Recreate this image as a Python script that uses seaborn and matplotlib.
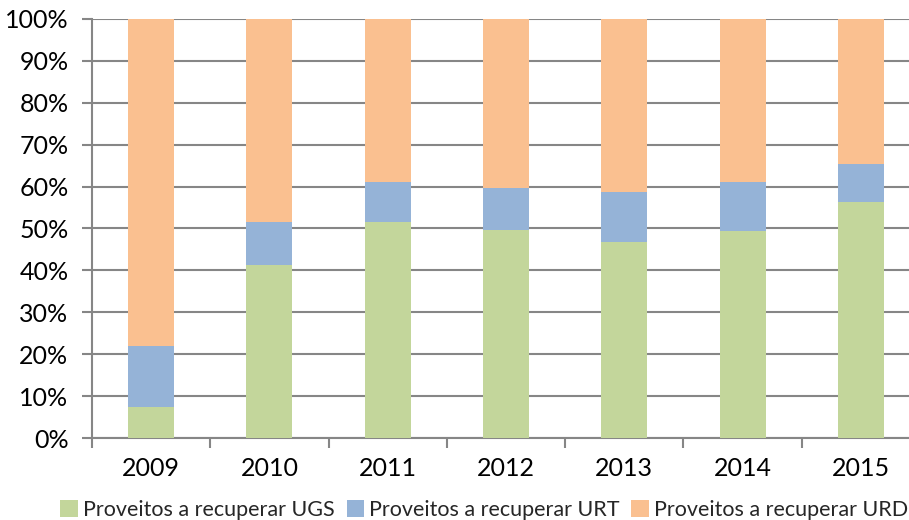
import matplotlib
matplotlib.use("Agg")
import matplotlib.pyplot as plt
import matplotlib.patches as mpatches
from matplotlib.ticker import FixedLocator, PercentFormatter
import numpy as np
import pandas as pd
import seaborn as sns

years = ["2009", "2010", "2011", "2012", "2013", "2014", "2015"]
ugs = [7.3, 41.2, 51.6, 49.7, 46.8, 49.3, 56.4]
urt = [14.7, 10.4, 9.5, 10.0, 12.0, 11.8, 9.0]
urd = [100 - a - b for a, b in zip(ugs, urt)]

series_names = ["Proveitos a recuperar UGS", "Proveitos a recuperar URT", "Proveitos a recuperar URD"]
colors = ["#C3D69B", "#95B3D7", "#FAC090"]

df = pd.DataFrame({"ano": years, "UGS": ugs, "URT": urt, "URD": urd})
df["top_urt"] = df["UGS"] + df["URT"]
df["top_urd"] = df["top_urt"] + df["URD"]

sns.set_style("white")
plt.rcParams["font.family"] = ["Lato", "DejaVu Sans"]

fig = plt.figure(figsize=(9.09, 5.20), dpi=100)
ax = fig.add_axes([92 / 909, 82 / 520, 828 / 909, 419 / 520])

bar_w = 0.39
# stacked bars drawn as cumulative layers, tallest first
sns.barplot(data=df, x="ano", y="top_urd", color=colors[2], width=bar_w, ax=ax,
            saturation=1, order=years, zorder=3)
sns.barplot(data=df, x="ano", y="top_urt", color=colors[1], width=bar_w, ax=ax,
            saturation=1, order=years, zorder=3)
sns.barplot(data=df, x="ano", y="UGS", color=colors[0], width=bar_w, ax=ax,
            saturation=1, order=years, zorder=3)
for p in ax.patches:
    p.set_linewidth(0)

grid_c = "#868686"
ax.set_ylim(0, 100)
ax.set_xlim(-0.5, len(years) - 0.5)
ax.yaxis.set_major_locator(FixedLocator(np.arange(0, 101, 10)))
ax.yaxis.set_major_formatter(PercentFormatter(decimals=0))
ax.grid(axis="y", color=grid_c, linewidth=1.5, zorder=0)
ax.set_axisbelow(True)

# category boundary ticks, labels centred between them
ax.xaxis.set_major_locator(FixedLocator(np.arange(-0.5, len(years), 1.0)))
ax.xaxis.set_minor_locator(FixedLocator(np.arange(len(years))))
ax.set_xticklabels([""] * len(ax.get_xticks()))
ax.set_xticklabels(years, minor=True)
ax.tick_params(axis="x", which="major", direction="out", length=7, width=1.5,
               color=grid_c, bottom=True)
ax.tick_params(axis="x", which="minor", length=0, pad=14, labelsize=18,
               labelcolor="#000000")
ax.tick_params(axis="y", direction="out", length=7, width=1.5, color=grid_c,
               left=True, pad=10, labelsize=18, labelcolor="#000000")
ax.set_xlabel("")
ax.set_ylabel("")

for side in ["top", "right"]:
    ax.spines[side].set_visible(False)
for side in ["left", "bottom"]:
    ax.spines[side].set_color(grid_c)
    ax.spines[side].set_linewidth(1.5)

handles = [mpatches.Patch(facecolor=c, edgecolor="none", label=n)
           for c, n in zip(colors, series_names)]
fig.legend(handles=handles, loc="lower left", bbox_to_anchor=(54 / 909, -0.012),
           ncol=3, frameon=False, fontsize=15.5, handlelength=0.8,
           handleheight=0.8, handletextpad=0.25, columnspacing=0.55,
           borderaxespad=0.2, borderpad=0.1)

fig.savefig("out.png", dpi=100)
